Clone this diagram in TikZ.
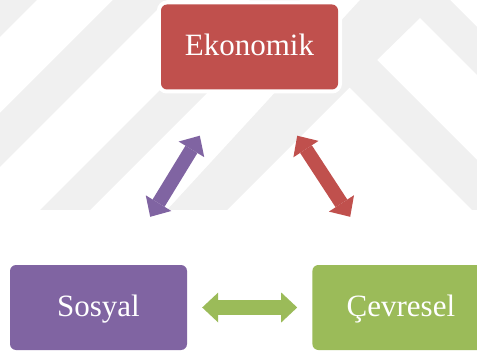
\documentclass[tikz,border=0pt]{standalone}
\usepackage{fontspec}
\setmainfont{Liberation Serif}
\usetikzlibrary{arrows.meta,calc,positioning}
\definecolor{ekored}{RGB}{192,80,77}
\definecolor{sospurple}{RGB}{128,100,162}
\definecolor{cevgreen}{RGB}{155,187,89}
\definecolor{wmgray}{RGB}{240,240,240}

\begin{document}
\begin{tikzpicture}[x=1pt,y=1pt,>={Triangle[length=16pt,width=30pt,line width=0pt]},
	box/.style={rectangle,rounded corners=6pt,minimum width=177pt,minimum height=85pt,inner sep=0pt,
		text height=22pt,text depth=4pt,text=white,font=\fontsize{31}{36}\selectfont,
		preaction={draw=white,line width=8pt}},
	fat/.style={line width=14pt,<->}]
			\useasboundingbox (0,0) rectangle (477,354);
			\clip (0,0) rectangle (477,354);
			\fill[wmgray] (0,354) -- (37,354) -- (0,317) -- cycle;
			\fill[wmgray] (113,354) -- (167,354) -- (0,187) -- (0,241) -- cycle;
			\fill[wmgray] (250,354) -- (300,354) -- (90,144) -- (40,144) -- cycle;
			\fill[wmgray] (167,144) -- (360,354) -- (450,354) -- (477,327) -- (477,279) -- (420,336) -- (377,294)
				-- (477,194) -- (477,144) -- (472,144) -- (349.5,266.5) -- (227,144) -- cycle;
			\node[box,fill=ekored] (eko) at (249.5,307) {Ekonomik};
			\node[box,fill=sospurple] (sos) at (98.5,46.5) {Sosyal};
			\node[box,fill=cevgreen] [right=125pt of sos] (cev) {Çevresel};
			\coordinate (sos_up) at ($(sos.north east)+(-37,48)$);
			\coordinate (eko_l) at ($(eko.south west)+(39,-46)$);
			\coordinate (eko_r) at ($(eko.south east)+(-41,-46)$);
			\coordinate (cev_up) at ($(cev.north west)+(38,48)$);
			\draw[fat,sospurple] (sos_up) -- (eko_l);
			\draw[fat,ekored] (eko_r) -- (cev_up);
			\draw[fat,cevgreen,line width=15pt,shorten <=15pt,shorten >=15pt] (sos) -- (cev);
		\end{tikzpicture}
\end{document}
